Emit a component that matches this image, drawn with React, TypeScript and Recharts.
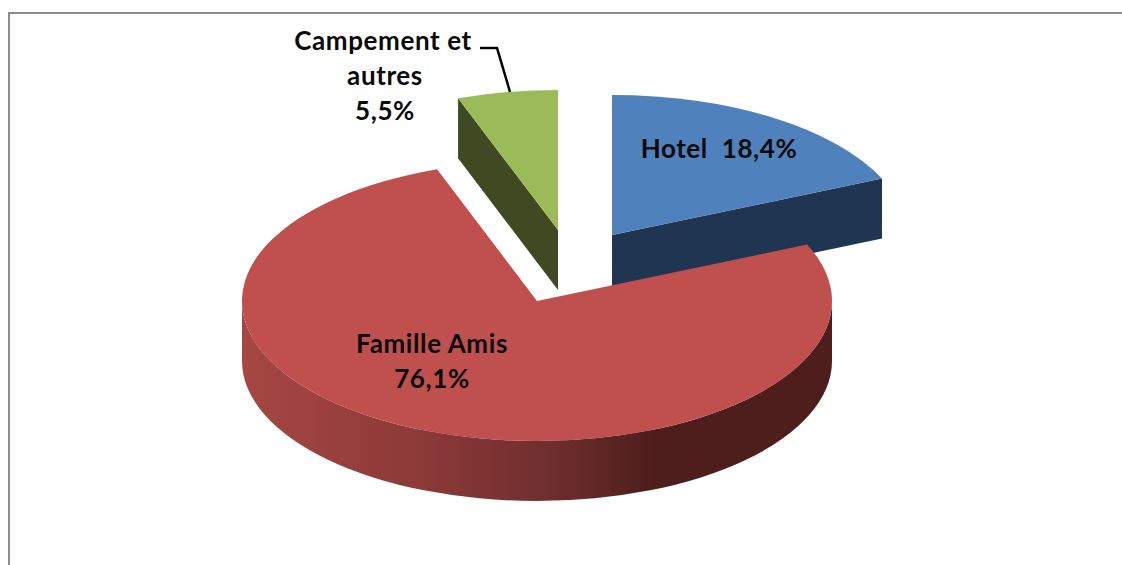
import { Pie, PieChart } from "recharts";

const CATEGORIES = ["Hotel", "Famille Amis", "Campement et autres"];
const SHARES = [18.4, 76.1, 5.5];
const TOPS = ["#4F81BD", "#C0504D", "#9BBB59"];
const SIDES = ["#1F3552", "#4D1E1C", "#3F4A22"];
const LABEL_LINES = [["Hotel  18,4%"], ["Famille Amis", "76,1%"], ["Campement et", "autres", "5,5%"]];

const data = CATEGORIES.map((name, i) => ({ name, value: SHARES[i] }));

// 3D look: the circle from Recharts gets squashed vertically and pulled out per slice
const WIDTH = 1122;
const HEIGHT = 565;
const CX = 537;
const CY = 301;
const RADIUS = 295;
const SQUASH = 140 / 295;
const DEPTH = 60;
const EXPLODE = [[75, -66], [0, 0], [21, -71]];
const LABEL_POS = [[719, 158], [432, 353], [383, 50]];
const LINE_HEIGHT = 35;

const rad = (a: number) => (a * Math.PI) / 180;

function Slice3D(props: any) {
  const { cx, cy, outerRadius: r, startAngle, endAngle, index } = props;
  const [ox, oy] = EXPLODE[index];
  const ax = cx + ox;
  const ay = cy + oy;
  const ry = r * SQUASH;
  const pt = (a: number, dz = 0) =>
    `${ax + r * Math.cos(rad(a))} ${ay - ry * Math.sin(rad(a)) + dz}`;
  const large = Math.abs(startAngle - endAngle) > 180 ? 1 : 0;
  const top = `M${ax} ${ay} L${pt(startAngle)} A${r} ${ry} 0 ${large} 1 ${pt(endAngle)} Z`;

  const face = (a: number) =>
    `M${ax} ${ay} L${pt(a)} L${pt(a, DEPTH)} L${ax} ${ay + DEPTH} Z`;
  const showStart = Math.sin(rad(startAngle + 90)) < -0.001;
  const showEnd = Math.sin(rad(endAngle - 90)) < -0.001;

  // front part of the rim, only the lower half of the circle can be seen
  const wallFrom = Math.min(startAngle, 0);
  const wallTo = Math.max(endAngle, -180);
  const hasWall = wallFrom > wallTo;
  const wall = `M${pt(wallFrom)} A${r} ${ry} 0 0 1 ${pt(wallTo)} L${pt(wallTo, DEPTH)} A${r} ${ry} 0 0 0 ${pt(wallFrom, DEPTH)} Z`;

  return (
    <g>
      <defs>
        <linearGradient id="rimRed" x1="0" y1="0" x2="1" y2="0">
          <stop offset="0" stopColor="#A64743" />
          <stop offset="0.3" stopColor="#8C3A38" />
          <stop offset="0.52" stopColor="#702E2E" />
          <stop offset="0.7" stopColor="#4D1E1C" />
          <stop offset="1" stopColor="#4D1E1C" />
        </linearGradient>
      </defs>
      {showStart && <path d={face(startAngle)} fill={SIDES[index]} />}
      {showEnd && <path d={face(endAngle)} fill={SIDES[index]} />}
      {hasWall && <path d={wall} fill="url(#rimRed)" />}
      <path d={top} fill={TOPS[index]} />
    </g>
  );
}

function SliceLabel(props: any) {
  const { index } = props;
  const [x, y] = LABEL_POS[index];
  return (
    <g>
      {LABEL_LINES[index].map((line, i) => (
        <text
          key={line}
          x={index === 2 && i > 0 ? x + 2 : x}
          y={y + i * LINE_HEIGHT}
          textAnchor="middle"
          fontFamily="Lato"
          fontWeight={700}
          fontSize={26}
          letterSpacing={0.6}
          fill="#0a0a0a"
          xmlSpace="preserve"
        >
          {line}
        </text>
      ))}
      {index === 2 && (
        <polyline points="480,48 497,48 510,92" fill="none" stroke="#000" strokeWidth={2.5} />
      )}
    </g>
  );
}

export default function App() {
  return (
    <div style={{ position: "absolute", left: 0, top: 0, width: WIDTH, height: HEIGHT, background: "#fff", overflow: "hidden" }}>
      <div style={{ position: "absolute", left: 8, top: 12, width: WIDTH, height: HEIGHT, border: "2.5px solid #8c8c8c", boxSizing: "border-box" }} />
      <div style={{ position: "absolute", left: 0, top: 0 }}>
        <PieChart width={WIDTH} height={HEIGHT} margin={{ top: 0, right: 0, bottom: 0, left: 0 }}>
          <Pie
            data={data}
            dataKey="value"
            nameKey="name"
            cx={CX}
            cy={CY}
            innerRadius={0}
            outerRadius={RADIUS}
            startAngle={90}
            endAngle={-270}
            paddingAngle={0}
            stroke="none"
            shape={Slice3D}
            label={SliceLabel}
            labelLine={false}
            isAnimationActive={false}
          />
        </PieChart>
      </div>
    </div>
  );
}
